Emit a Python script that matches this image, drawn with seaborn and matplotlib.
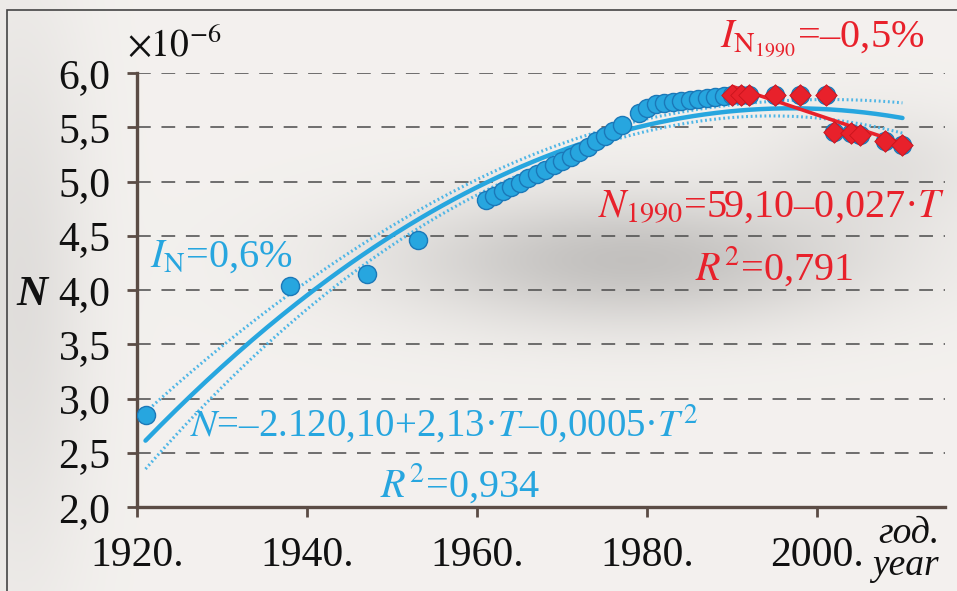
import numpy as np
import matplotlib
matplotlib.use("Agg")
import matplotlib.pyplot as plt
from matplotlib.patches import Rectangle
import seaborn as sns

# ---------------------------------------------------------------------------
# Data (N in units of 1e-6)
# ---------------------------------------------------------------------------

YEARS_ALL = [1921, 1938, 1947, 1953,
             1961, 1962, 1963, 1964, 1965, 1966, 1967, 1968, 1969,
             1970, 1971, 1972, 1973, 1974, 1975, 1976, 1977,
             1979, 1980, 1981, 1982, 1983, 1984, 1985, 1986, 1987, 1988, 1989,
             1990, 1991, 1992, 1995, 1998, 2001, 2002, 2004, 2005, 2008, 2010]
N_ALL = [2.85, 4.04, 4.15, 4.46,
         4.83, 4.87, 4.91, 4.95, 4.99, 5.03, 5.07, 5.11, 5.15,
         5.19, 5.23, 5.27, 5.32, 5.37, 5.42, 5.47, 5.52,
         5.63, 5.68, 5.71, 5.72, 5.73, 5.74, 5.75, 5.76, 5.77, 5.78, 5.79,
         5.80, 5.80, 5.80, 5.80, 5.80, 5.80, 5.46, 5.45, 5.43, 5.37, 5.34]

YEARS_1990 = [1990, 1991, 1992, 1995, 1998, 2001, 2002, 2004, 2005, 2008, 2010]
N_1990 = [5.80, 5.80, 5.80, 5.80, 5.80, 5.80, 5.46, 5.45, 5.43, 5.37, 5.34]

Y_TICKS = [2.0, 2.5, 3.0, 3.5, 4.0, 4.5, 5.0, 5.5, 6.0]
Y_LABELS = ["2,0", "2,5", "3,0", "3,5", "4,0", "4,5", "5,0", "5,5", "6,0"]
X_TICKS = [1920, 1940, 1960, 1980, 2000]
X_LABELS = ["1920.", "1940.", "1960.", "1980.", "2000."]

BLUE = "#27a6df"
BLUE_EDGE = "#1b78b8"
BLUE_DOT = "#4fb6e6"
RED = "#e8212b"
AXIS_COL = "#5b4c45"
INK = "#111111"

sns.set_theme(style="white")
plt.rcParams["font.family"] = ["Liberation Serif", "DejaVu Serif"]
plt.rcParams["mathtext.fontset"] = "stix"

W, H = 957, 591


def fx(px):
    return px / W


def fy(py):
    return 1 - py / H


fig = plt.figure(figsize=(W / 100, H / 100), dpi=100)
fig.patch.set_facecolor("#efebe7")

# soft grey shadows of the original background
bg = fig.add_axes([0, 0, 1, 1], zorder=-10)
gx, gy = np.meshgrid(np.linspace(0, 1, 300), np.linspace(0, 1, 200))
shade = (0.20 * np.exp(-(((gx - 0.66) / 0.24) ** 2 + ((gy - 0.44) / 0.11) ** 2))
         + 0.08 * np.exp(-(((gx - 0.02) / 0.07) ** 2 + ((gy - 0.5) / 0.5) ** 2))
         + 0.07 * np.exp(-(((gx - 0.92) / 0.12) ** 2 + ((gy - 0.28) / 0.10) ** 2)))
base = np.array([0.955, 0.945, 0.935])
img = np.clip(base[None, None, :] * (1 - shade[..., None]), 0, 1)
bg.imshow(img, extent=[0, 1, 0, 1], aspect="auto", origin="upper")
bg.axis("off")
fig.add_artist(Rectangle((fx(7), fy(600)), 1.0, fy(10) - fy(600), transform=fig.transFigure,
                         fill=False, edgecolor="#444444", lw=1.2))

ax = fig.add_axes([fx(137), fy(507), fx(945) - fx(137), fy(73) - fy(507)])
ax.set_facecolor("none")

# ---------------------------------------------------------------------------
# Fits: quadratic over the whole series, linear after 1990
# ---------------------------------------------------------------------------
t = np.array(YEARS_ALL, dtype=float)
n = np.array(N_ALL)
tc = t - 1960
X = np.column_stack([np.ones_like(tc), tc, tc ** 2])
beta, _, _, _ = np.linalg.lstsq(X, n, rcond=None)
resid = n - X @ beta
s2 = resid @ resid / (len(n) - 3)
cov = s2 * np.linalg.inv(X.T @ X)
tt = np.linspace(1921, 2010, 200)
Xg = np.column_stack([np.ones_like(tt), tt - 1960, (tt - 1960) ** 2])
fit = Xg @ beta
se = np.sqrt(np.einsum("ij,jk,ik->i", Xg, cov, Xg))
band = 2.02 * se

ax.plot(tt, fit, color=BLUE, lw=3.2, solid_capstyle="round", zorder=3)
ax.plot(tt, fit + band, color=BLUE_DOT, lw=2.2, ls=(0, (0.6, 0.9)), zorder=3)
ax.plot(tt, fit - band, color=BLUE_DOT, lw=2.2, ls=(0, (0.6, 0.9)), zorder=3)

sns.scatterplot(x=YEARS_ALL, y=N_ALL, ax=ax, s=170, color=BLUE, edgecolor=BLUE_EDGE,
                linewidth=1.0, zorder=4, legend=False)

k, b = np.polyfit(YEARS_1990, N_1990, 1)
tr = np.array([YEARS_1990[0], YEARS_1990[-1]], dtype=float)
ax.plot(tr, k * tr + b, color=RED, lw=2.6, zorder=5)
sns.scatterplot(x=YEARS_1990, y=N_1990, ax=ax, s=120, marker="D", color=RED,
                edgecolor="#c8141c", linewidth=0.6, zorder=6, legend=False)

# ---------------------------------------------------------------------------
# Axes styling
# ---------------------------------------------------------------------------
ax.set_xlim(1920, 2015)
ax.set_ylim(2.0, 6.0)
ax.set_yticks(Y_TICKS)
ax.set_yticklabels(Y_LABELS)
ax.set_xticks(X_TICKS)
ax.set_xticklabels(X_LABELS)
ax.tick_params(axis="y", direction="out", length=7, width=2, color=AXIS_COL,
               labelsize=30, labelcolor=INK, pad=12, left=True)
ax.tick_params(axis="x", direction="out", length=7, width=2, color=AXIS_COL,
               labelsize=30, labelcolor=INK, pad=14, bottom=True)
for side in ("top", "right"):
    ax.spines[side].set_visible(False)
for side in ("left", "bottom"):
    ax.spines[side].set_color(AXIS_COL)
    ax.spines[side].set_linewidth(2.4)
ax.yaxis.grid(True, color="#4a4a4a", lw=1.1, ls=(0, (9, 7)))
ax.xaxis.grid(False)
ax.set_axisbelow(True)
ax.set_xlabel("")
ax.set_ylabel("")

# ---------------------------------------------------------------------------
# Texts
# ---------------------------------------------------------------------------
fig.text(fx(127), fy(57), r"$\times10^{-6}$", fontsize=27, color=INK, va="baseline")
fig.text(fx(16), fy(305), "N", fontsize=31, fontweight="bold", fontstyle="italic",
         color=INK, va="baseline")
fig.text(fx(878), fy(543), "год.", fontsize=27, fontstyle="italic", color=INK, va="baseline")
fig.text(fx(872), fy(575), "year", fontsize=27, fontstyle="italic", color=INK, va="baseline")

fig.text(fx(150), fy(267), r"$I_{\mathrm{N}}$=0,6%", fontsize=29, color=BLUE, va="baseline")
fig.text(fx(190), fy(437), r"$N$=–2.120,10+2,13·$T$–0,0005·$T^2$", fontsize=28,
         color=BLUE, va="baseline")
fig.text(fx(380), fy(497), r"$R^2$=0,934", fontsize=29, color=BLUE, va="baseline")

fig.text(fx(720), fy(48), r"$I_{\mathrm{N}_{1990}}$=–0,5%", fontsize=29, color=RED, va="baseline")
fig.text(fx(598), fy(217), r"$N_{1990}$=59,10–0,027·$T$", fontsize=29, color=RED, va="baseline")
fig.text(fx(695), fy(280), r"$R^2$=0,791", fontsize=29, color=RED, va="baseline")

fig.savefig("out.png", dpi=100, facecolor=fig.get_facecolor())
